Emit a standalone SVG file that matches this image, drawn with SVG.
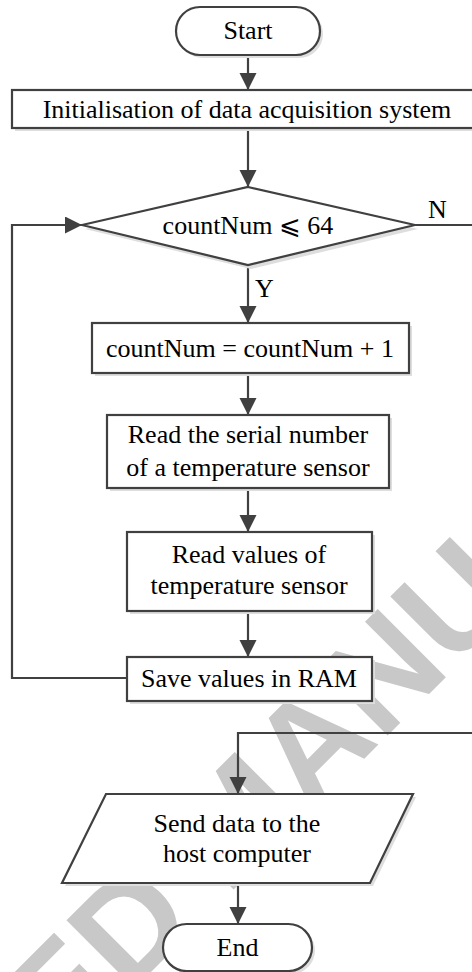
<svg xmlns="http://www.w3.org/2000/svg" width="472" height="972" viewBox="0 0 472 972">
<defs>
<style>
.sh{fill:#dedede;stroke:none}
.bx{fill:#fff;stroke:#404040;stroke-width:2.2}
.t{font-family:'Liberation Serif','Times New Roman',serif;font-size:26px;fill:#000;text-anchor:middle}
.l{font-family:'Liberation Serif','Times New Roman',serif;font-size:26px;fill:#000}
.c{fill:none;stroke:#404040;stroke-width:2.2}
.wm{font-family:'Liberation Sans',Arial,sans-serif;font-weight:bold;font-size:140px;fill:#c8c8c8}
</style>
<marker id="ah" markerUnits="userSpaceOnUse" markerWidth="18" markerHeight="18" refX="17" refY="8.5" orient="auto" viewBox="0 0 18 18">
<path d="M0,0 L17,8.5 L0,17 z" fill="#404040"/>
</marker>
</defs>
<rect width="472" height="972" fill="#fff"/>
<text class="wm" transform="translate(-345,1468) rotate(-45)">ACCEPTED MANUSCRIPT</text>
<g id="connectors">
<line class="c" x1="248" y1="55" x2="248" y2="90" marker-end="url(#ah)"/>
<line class="c" x1="248" y1="128" x2="248" y2="187" marker-end="url(#ah)"/>
<line class="c" x1="248" y1="265" x2="248" y2="323" marker-end="url(#ah)"/>
<line class="c" x1="248" y1="373" x2="248" y2="415" marker-end="url(#ah)"/>
<line class="c" x1="248" y1="488" x2="248" y2="532" marker-end="url(#ah)"/>
<line class="c" x1="248" y1="611" x2="248" y2="657" marker-end="url(#ah)"/>
<polyline class="c" points="127,678 12,678 12,225 82,225" marker-end="url(#ah)"/>
<line class="c" x1="415" y1="225" x2="476" y2="225"/>
<polyline class="c" points="476,733 238,733 238,794" marker-end="url(#ah)"/>
<line class="c" x1="238" y1="883" x2="238" y2="924" marker-end="url(#ah)"/>
<text class="l" x="428" y="218">N</text>
<text class="l" x="255" y="297">Y</text>
</g>
<g id="start">
<rect class="sh" x="179" y="10" width="144" height="48" rx="24"/>
<rect class="bx" x="176" y="7" width="144" height="48" rx="24"/>
<text class="t" x="248" y="39">Start</text>
</g>
<g id="init">
<rect class="sh" x="15" y="93" width="472" height="38"/>
<rect class="bx" x="12" y="90" width="472" height="38"/>
<text class="t" x="247" y="118">Initialisation of data acquisition system</text>
</g>
<g id="decision">
<polygon class="sh" points="251,191 418,229 251,269 85,229"/>
<polygon class="bx" points="248,187 415,225 248,265 82,225"/>
<text class="t" x="248" y="234">countNum ⩽ 64</text>
</g>
<g id="increment">
<rect class="sh" x="95" y="326" width="317" height="50"/>
<rect class="bx" x="92" y="323" width="317" height="50"/>
<text class="t" x="250" y="357">countNum = countNum + 1</text>
</g>
<g id="readserial">
<rect class="sh" x="110" y="418" width="282" height="73"/>
<rect class="bx" x="107" y="415" width="282" height="73"/>
<text class="t" x="248" y="443">Read the serial number</text>
<text class="t" x="248" y="476">of a temperature sensor</text>
</g>
<g id="readvalues">
<rect class="sh" x="130" y="535" width="245" height="79"/>
<rect class="bx" x="127" y="532" width="245" height="79"/>
<text class="t" x="249" y="563">Read values of</text>
<text class="t" x="249" y="594">temperature sensor</text>
</g>
<g id="save">
<rect class="sh" x="130" y="660" width="245" height="44"/>
<rect class="bx" x="127" y="657" width="245" height="44"/>
<text class="t" x="249" y="687">Save values in RAM</text>
</g>
<g id="send">
<polygon class="sh" points="109,797 416,797 373,886 65,886"/>
<polygon class="bx" points="106,794 413,794 370,883 62,883"/>
<text class="t" x="237" y="832">Send data to the</text>
<text class="t" x="237" y="862">host computer</text>
</g>
<g id="end">
<rect class="sh" x="166" y="927" width="149" height="47" rx="23.5"/>
<rect class="bx" x="163" y="924" width="149" height="47" rx="23.5"/>
<text class="t" x="237.5" y="956">End</text>
</g>
</svg>
